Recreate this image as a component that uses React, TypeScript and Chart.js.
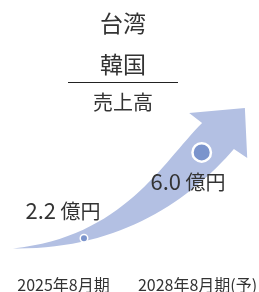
import { useEffect, useRef } from 'react';
import { Chart, registerables } from 'chart.js';

Chart.register(...registerables);

// ---- data ----
const fiscalYears = [2025, 2028];
const categoryLabels = ['2025年8月期', '2028年8月期(予)'];
const salesValues = [2.2, 6.0];
const valueLabels = ['2.2', '6.0'];
const unitLabel = '億円';
const titleLines = ['台湾', '韓国'];
const subtitle = '売上高';

const FONT = '"Noto Sans CJK JP", "Noto Sans", sans-serif';
const TEXT = '#333333';

// decorative growth arrow outline, expressed in data units (year, value)
const ARROW = {
  tail: [2023.19, 1.745],
  upC1: [2026.0, 2.25],
  upC2: [2026.99, 5.53],
  upNotch: [2028.01, 7.3],
  headLeft: [2027.68, 7.75],
  tip: [2029.1, 7.97],
  headRight: [2029.16, 5.75],
  lowNotch: [2028.82, 6.15],
  lowC2: [2027.7, 3.89],
  lowC1: [2025.92, 1.68],
};

const arrowPlugin = {
  id: 'growthArrow',
  beforeDatasetsDraw(chart: any) {
    const { ctx } = chart;
    const xs = chart.scales.x;
    const ys = chart.scales.y;
    const P = (a: number[]): [number, number] => [xs.getPixelForValue(a[0]), ys.getPixelForValue(a[1])];
    const t = P(ARROW.tail);
    const u1 = P(ARROW.upC1);
    const u2 = P(ARROW.upC2);
    const un = P(ARROW.upNotch);
    const hl = P(ARROW.headLeft);
    const tp = P(ARROW.tip);
    const hr = P(ARROW.headRight);
    const ln = P(ARROW.lowNotch);
    const l2 = P(ARROW.lowC2);
    const l1 = P(ARROW.lowC1);
    ctx.save();
    ctx.beginPath();
    ctx.moveTo(t[0], t[1]);
    ctx.bezierCurveTo(u1[0], u1[1], u2[0], u2[1], un[0], un[1]);
    ctx.lineTo(hl[0], hl[1]);
    ctx.lineTo(tp[0], tp[1]);
    ctx.lineTo(hr[0], hr[1]);
    ctx.lineTo(ln[0], ln[1]);
    ctx.bezierCurveTo(l2[0], l2[1], l1[0], l1[1], t[0], t[1]);
    ctx.closePath();
    ctx.fillStyle = '#b3c0e3';
    ctx.fill();
    ctx.restore();
  },
};

const textPlugin = {
  id: 'infoText',
  afterDraw(chart: any) {
    const { ctx } = chart;
    ctx.save();
    ctx.fillStyle = TEXT;
    ctx.textAlign = 'center';
    ctx.textBaseline = 'middle';
    // titles
    ctx.font = `400 23px ${FONT}`;
    ctx.fillText(titleLines[0], 123, 23);
    ctx.fillText(titleLines[1], 123, 64);
    // rule
    ctx.strokeStyle = '#222222';
    ctx.lineWidth = 1;
    ctx.beginPath();
    ctx.moveTo(68, 82.5);
    ctx.lineTo(178, 82.5);
    ctx.stroke();
    ctx.font = `400 20px ${FONT}`;
    ctx.fillText(subtitle, 123, 102);

    // value labels
    ctx.textAlign = 'left';
    ctx.textBaseline = 'alphabetic';
    const valuePos = [
      [25.5, 219],
      [150.5, 190],
    ];
    valueLabels.forEach((v, i) => {
      const [x, y] = valuePos[i];
      ctx.font = `400 22px ${FONT}`;
      ctx.fillText(v, x, y);
      const w = ctx.measureText(v).width;
      ctx.font = `400 20px ${FONT}`;
      ctx.fillText(' ' + unitLabel, x + w, y);
    });

    // category labels
    ctx.textAlign = 'center';
    ctx.font = `400 16px ${FONT}`;
    const catX = [63.5, 197.5];
    categoryLabels.forEach((c, i) => {
      ctx.fillText(c, catX[i], 291);
    });
    ctx.restore();
  },
};

export default function App() {
  const ref = useRef<HTMLCanvasElement | null>(null);
  useEffect(() => {
    if (!ref.current) return;
    const chart = new Chart(ref.current, {
      type: 'scatter',
      data: {
        datasets: [
          {
            data: fiscalYears.map((x, i) => ({ x, y: salesValues[i] })),
            pointRadius: [3.75, 9.25],
            pointBorderWidth: [1.5, 2.5],
            pointBackgroundColor: '#7b94cc',
            pointBorderColor: '#ffffff',
            pointHoverRadius: [3.75, 9.25],
            clip: false,
          },
        ],
      },
      options: {
        responsive: false,
        animation: false,
        devicePixelRatio: 1,
        layout: { padding: 0, autoPadding: false },
        events: [],
        scales: {
          x: { type: 'linear', min: 2022.86, max: 2029.46, display: false },
          y: { type: 'linear', min: -0.18, max: 12.75, display: false },
        },
        plugins: {
          legend: { display: false },
          tooltip: { enabled: false },
        },
      },
      plugins: [arrowPlugin, textPlugin],
    });
    return () => chart.destroy();
  }, []);
  return (
    <div style={{ position: 'absolute', left: 0, top: 0, width: 259, height: 292, background: '#fff' }}>
      <canvas ref={ref} width={259} height={292} style={{ display: 'block' }} />
    </div>
  );
}
